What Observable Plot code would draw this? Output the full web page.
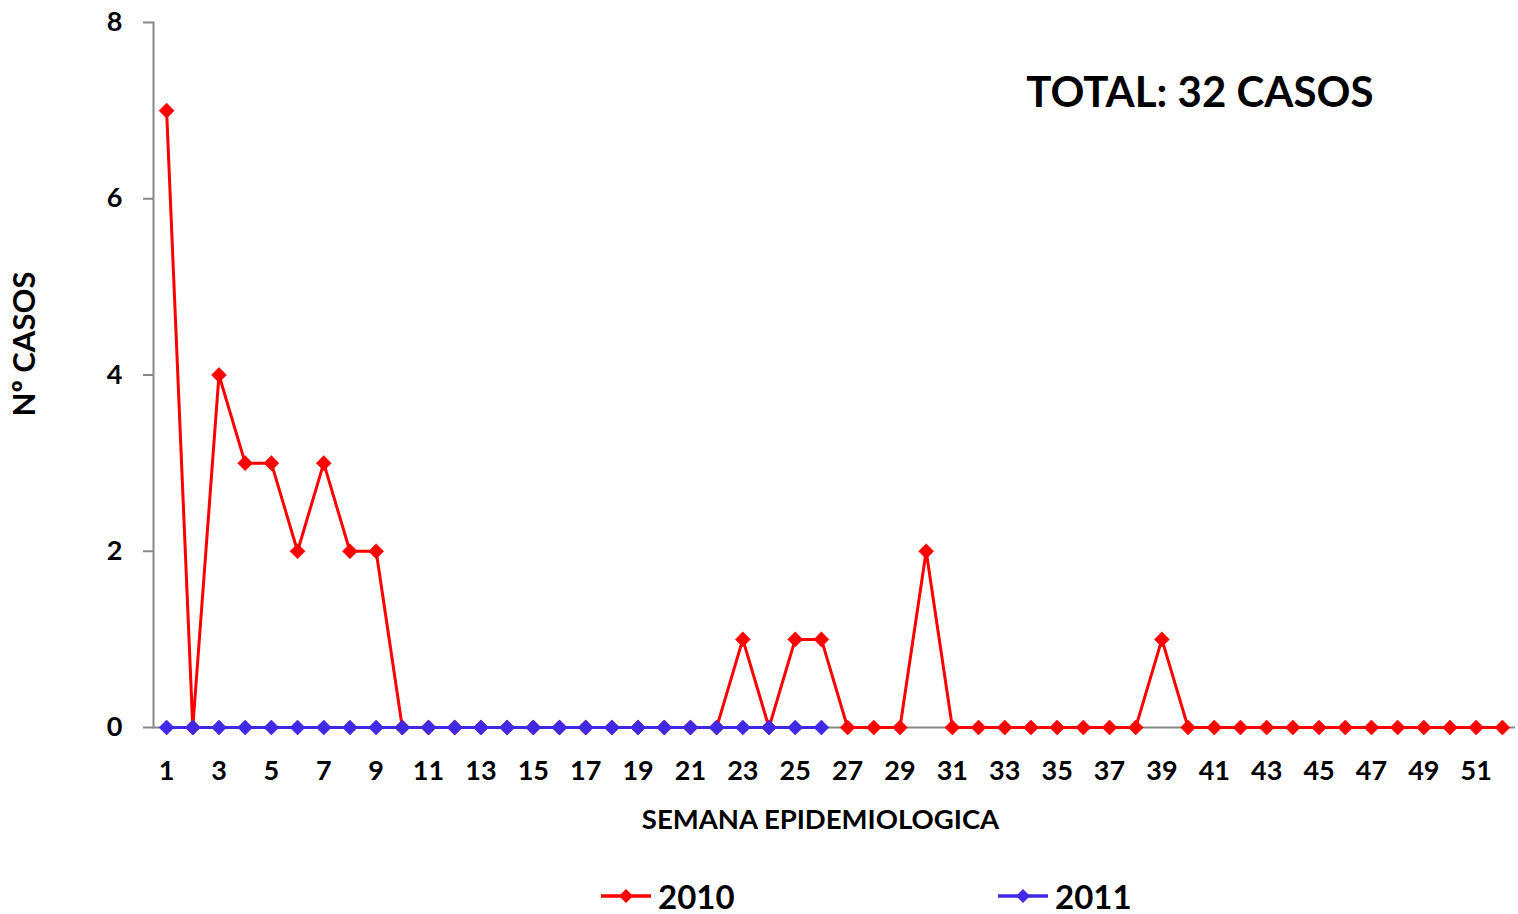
<!DOCTYPE html>
<html>
<head>
<meta charset="utf-8">
<script src="https://cdn.jsdelivr.net/npm/d3@7"></script>
<script src="https://cdn.jsdelivr.net/npm/@observablehq/plot@0.6"></script>
<style>
  html, body { margin: 0; padding: 0; background: #fff; }
  body { width: 1518px; height: 914px; overflow: hidden; font-family: Lato, "Open Sans", sans-serif; font-weight: bold; }
  #legend { position: relative; height: 54px; }
  .item { position: absolute; top: 9px; height: 54px; display: flex; align-items: center; font-size: 33px; color: #000; }
  .item svg { margin-right: 6px; }
</style>
</head>
<body>
<div id="chart"></div>
<div id="legend"></div>
<script>
const weeks = d3.range(1, 53);
const cases2010 = [7,0,4,3,3,2,3,2,2,0, 0,0,0,0,0,0,0,0,0,0, 0,0,1,0,1,1,0,0,0,2, 0,0,0,0,0,0,0,0,1,0, 0,0,0,0,0,0,0,0,0,0, 0,0];
const weeks2011 = d3.range(1, 27);
const cases2011 = weeks2011.map(() => 0);
const yTicks = [0, 2, 4, 6, 8];
const xTicks = weeks.filter(w => w % 2 === 1);
const totalLabel = "TOTAL: 32 CASOS";
const xLabel = "SEMANA EPIDEMIOLOGICA";
const yLabel = "Nº CASOS";
const series = [
  {name: "2010", color: "#ff0000"},
  {name: "2011", color: "#3f28e6"}
];

const d2010 = weeks.map((w, i) => ({week: w, value: cases2010[i]}));
const d2011 = weeks2011.map((w, i) => ({week: w, value: cases2011[i]}));

const font = "Lato, 'Open Sans', sans-serif";

const chart = Plot.plot({
  width: 1518,
  height: 860,
  marginLeft: 153,
  marginRight: 3,
  marginTop: 22,
  marginBottom: 133,
  style: {fontFamily: font, fontWeight: "bold", background: "#fff", color: "#000"},
  x: {type: "point", domain: weeks, padding: 0.5, round: false},
  y: {domain: [0, 8]},
  marks: [
    Plot.frame({anchor: "left", stroke: "#888", strokeWidth: 2}),
    Plot.ruleY([0], {stroke: "#888", strokeWidth: 2}),
    Plot.axisY({ticks: yTicks, tickSize: 10, tickPadding: 21, fontSize: 27, label: null, stroke: "#888", strokeWidth: 2}),
    Plot.axisX({ticks: xTicks, tickSize: 0, tickPadding: 33, fontSize: 27, label: null}),
    Plot.line(d2010, {x: "week", y: "value", stroke: series[0].color, strokeWidth: 3}),
    Plot.dot(d2010, {x: "week", y: "value", symbol: "diamond2", r: 6.8, fill: series[0].color, stroke: series[0].color, strokeWidth: 0.5}),
    Plot.line(d2011, {x: "week", y: "value", stroke: series[1].color, strokeWidth: 3}),
    Plot.dot(d2011, {x: "week", y: "value", symbol: "diamond2", r: 6.8, fill: series[1].color, stroke: series[1].color, strokeWidth: 0.5}),
    Plot.text([totalLabel], {text: d => d, frameAnchor: "top-right", dx: -142, dy: 71, lineAnchor: "middle", textAnchor: "end", fontSize: 42, fontWeight: "bold", fill: "#000"}),
    Plot.text([xLabel], {text: d => d, frameAnchor: "bottom", dx: -14, dy: 93, lineAnchor: "middle", textAnchor: "middle", fontSize: 27.5, fontWeight: "bold", fill: "#000"}),
    Plot.text([yLabel], {text: d => d, frameAnchor: "left", dx: -128, dy: -31, rotate: -90, lineAnchor: "middle", textAnchor: "middle", fontSize: 31, fontWeight: "bold", fill: "#000"})
  ]
});
document.getElementById("chart").appendChild(chart);

const legend = document.getElementById("legend");
const lefts = [600, 997];
series.forEach((s, i) => {
  const div = document.createElement("div");
  div.className = "item";
  div.style.left = lefts[i] + "px";
  div.innerHTML = `<svg width="52" height="20" viewBox="0 0 52 20"><line x1="1" y1="10" x2="51" y2="10" stroke="${s.color}" stroke-width="3.5"/><path d="M26 3 L33 10 L26 17 L19 10 Z" fill="${s.color}"/></svg><span>${s.name}</span>`;
  legend.appendChild(div);
});
</script>
</body>
</html>
